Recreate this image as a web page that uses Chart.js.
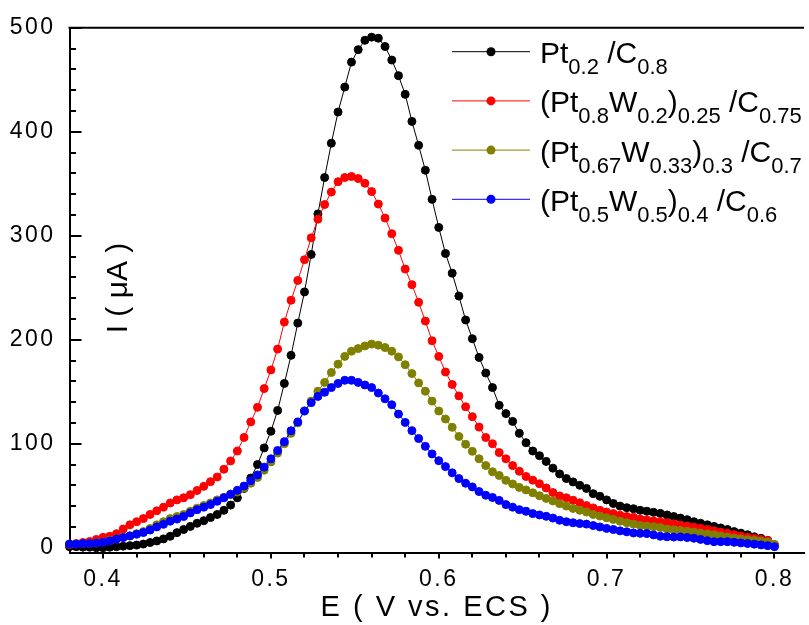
<!DOCTYPE html>
<html>
<head>
<meta charset="utf-8">
<script src="https://cdn.jsdelivr.net/npm/chart.js@4/dist/chart.umd.min.js"></script>
<style>
  html, body { margin: 0; padding: 0; background: #fff; }
  #wrap { width: 809px; height: 625px; }
</style>
</head>
<body>
<div id="wrap"><canvas id="cv" width="809" height="625"></canvas></div>
<script>
// potential E (V vs. ECS)
const potential = [
  0.380,0.384,0.388,0.392,0.396,0.400,0.404,0.408,0.412,0.416,
  0.420,0.424,0.428,0.432,0.436,0.440,0.444,0.448,0.452,0.456,
  0.460,0.464,0.468,0.472,0.476,0.480,0.484,0.488,0.492,0.496,
  0.500,0.504,0.508,0.512,0.516,0.520,0.524,0.528,0.532,0.536,
  0.540,0.544,0.548,0.552,0.556,0.560,0.564,0.568,0.572,0.576,
  0.580,0.584,0.588,0.592,0.596,0.600,0.604,0.608,0.612,0.616,
  0.620,0.624,0.628,0.632,0.636,0.640,0.644,0.648,0.652,0.656,
  0.660,0.664,0.668,0.672,0.676,0.680,0.684,0.688,0.692,0.696,
  0.700,0.704,0.708,0.712,0.716,0.720,0.724,0.728,0.732,0.736,
  0.740,0.744,0.748,0.752,0.756,0.760,0.764,0.768,0.772,0.776,
  0.780,0.784,0.788,0.792,0.796,0.800
];

// current I (uA)
const ptC = [
  1,1,0.5,0.5,0,0,0.5,1,1.5,2,
  2.5,3.5,5,6.5,8.5,11,14.5,17.5,20.5,23.5,
  26,29,32,36,41,48,57,67,80,96,
  112,132,158,185,216,246,282,321,356,389,
  419,443,467,479,488,491,490,482,469,454,
  436,410,387,363,335,308,283,264,242,219,
  201,183,168,154,137,129,121.5,110,101,93,
  88.5,83,76.5,71,66.5,63.3,60,57,52,49.5,
  46,42.5,40,38.5,37.5,36,35,34,33,31.5,
  30,28.5,27,25,23.5,22,20.5,19,17.5,15.5,
  14,12.5,10.5,9,7,2
];
const ptW02 = [
  3,4,5,6,8,10,11,13.5,18,22,
  25,28,32,35.5,39,43,46,48,51,55,
  59,63.5,68,75.5,83.5,93,106,121,135,153,
  171,191,217,238,257,277,298,316,330,342,
  352,356,357,355,350.5,342.5,330.5,317,302,286,
  268,253,236,218,199,184,169,157,146,135.5,
  126,116,106,100,91.5,85.5,79,73.5,68.5,65,
  61.5,57.5,53,49.8,48,45.7,43.2,40.5,38.3,36,
  34.3,32.8,31.3,30,29.2,27.6,26.6,25.8,25,24,
  23,21.8,20.8,19.8,18.8,17.6,16.3,15,13.8,12.5,
  11.3,10,9,8,7,3
];
const ptW033 = [
  3.5,3.5,4,4,4.5,5.5,7,8.5,10,11.5,
  13.5,15.5,18.5,22,25,28,30,32,35,38,
  40.5,43,46,48.5,51,53.5,57.5,62,67.5,74.5,
  82.5,91,100,110,120,131.5,141,150.5,159,168.5,
  176.5,184,189,191.5,194,195.8,194.8,192.5,189,183.5,
  176,167.5,158.5,150.5,141,131.5,123.8,115.8,107,99.5,
  92.7,85.5,79,73,69.5,64.8,61.3,58,55.6,52.8,
  50,47.4,45,42.4,40,37.8,36,34.3,32,30.4,
  28.8,27.2,25.5,24,22.7,21.4,20.8,20.2,19.4,17.9,
  17.3,16.6,15.8,15,14,13.3,12.4,11.3,10.2,9.2,
  8.4,7.7,7,6.3,5.5,3
];
const ptW05 = [
  3.5,3.5,4,4,4.5,5.2,6.5,8.3,9.8,11.3,
  13,14.6,17,20,22.5,25.5,27.5,30,33.5,36.5,
  39,41.5,44.7,48,51.5,55.2,59.3,64.5,70,77.5,
  85.5,93.5,102,112.5,121,131.5,139.5,145.5,149.5,154,
  158,161,161,159,156.5,154,148.8,143.2,137.5,128.5,
  120.5,112.6,105,97.5,90.2,83.7,78,72,66.5,62,
  58.5,54,50.5,48.3,45.5,41.5,39,36.6,35,32.8,
  31.5,30.2,28.5,26.4,25,24,23.2,22.7,21.3,20,
  18.6,17.5,16.2,15.3,14.2,13.8,13.6,12.3,11,10.5,
  10.3,10.4,9.8,9.1,8,6.8,5.8,5.8,5.8,5.2,
  4.6,4,3.4,2.7,2,1
];

const seriesData = [ptC, ptW02, ptW033, ptW05];
const seriesColors = ['#000000', '#ff0000', '#808000', '#0000ff'];
// legend text pieces: [text, subscript?]
const legendParts = [
  [['Pt',0],['0.2',1],[' /C',0],['0.8',1]],
  [['(Pt',0],['0.8',1],['W',0],['0.2',1],[')',0],['0.25',1],[' /C',0],['0.75',1]],
  [['(Pt',0],['0.67',1],['W',0],['0.33',1],[')',0],['0.3',1],[' /C',0],['0.7',1]],
  [['(Pt',0],['0.5',1],['W',0],['0.5',1],[')',0],['0.4',1],[' /C',0],['0.6',1]]
];

const xTicks = [0.4, 0.5, 0.6, 0.7, 0.8];
const xMinor = [0.42,0.44,0.46,0.48,0.52,0.54,0.56,0.58,0.62,0.64,0.66,0.68,0.72,0.74,0.76,0.78];
const yTicks = [0, 100, 200, 300, 400, 500];
const yMinor = [20,40,60,80,120,140,160,180,220,240,260,280,320,340,360,380,420,440,460,480];

const FONT = "'Liberation Sans', Arial, sans-serif";

const framePlugin = {
  id: 'frame',
  beforeLayout(chart) { chart.ctx.letterSpacing = '2.5px'; },
  beforeDraw(chart) { chart.ctx.letterSpacing = '2.5px'; },
  beforeDatasetsDraw(chart) {
    const { ctx, chartArea: a, scales: { x, y } } = chart;
    ctx.save();
    ctx.strokeStyle = '#000';
    ctx.lineWidth = 2;
    ctx.beginPath();
    ctx.moveTo(a.left - 1, a.top);
    ctx.lineTo(a.right, a.top);
    ctx.stroke();
    ctx.beginPath();
    yTicks.concat(yMinor).forEach(v => {
      const py = Math.round(y.getPixelForValue(v));
      const len = yTicks.includes(v) ? 12 : 6.5;
      ctx.moveTo(a.left, py);
      ctx.lineTo(a.left + len, py);
    });
    xTicks.concat(xMinor).forEach(v => {
      const px = Math.round(x.getPixelForValue(v));
      const len = xTicks.includes(v) ? 6 : 5;
      ctx.moveTo(px, a.bottom);
      ctx.lineTo(px, a.bottom + len);
    });
    ctx.stroke();
    ctx.restore();
  },
  afterDraw(chart) {
    const ctx = chart.ctx;
    ctx.save();
    ctx.letterSpacing = '0px';
    // y title sits inside the plot
    ctx.fillStyle = '#000';
    ctx.font = '30px ' + FONT;
    ctx.textAlign = 'center';
    ctx.textBaseline = 'alphabetic';
    ctx.translate(127, 288);
    ctx.rotate(-Math.PI / 2);
    ctx.fillText('I ( \u03bcA )', 0, 0);
    ctx.restore();

    ctx.save();
    ctx.letterSpacing = '0px';
    ctx.textAlign = 'left';
    ctx.textBaseline = 'alphabetic';
    legendParts.forEach((parts, i) => {
      const cy = 51.7 + i * 49.2;
      ctx.strokeStyle = seriesColors[i];
      ctx.lineWidth = 1;
      ctx.beginPath();
      ctx.moveTo(452, cy);
      ctx.lineTo(530, cy);
      ctx.stroke();
      ctx.fillStyle = seriesColors[i];
      ctx.beginPath();
      ctx.arc(491, cy, 4.5, 0, Math.PI * 2);
      ctx.fill();
      ctx.fillStyle = '#000';
      let tx = 540;
      parts.forEach(([t, sub]) => {
        ctx.font = (sub ? '22px ' : '30px ') + FONT;
        ctx.fillText(t, tx, cy + (sub ? 22.5 : 11.5));
        tx += ctx.measureText(t).width;
      });
    });
    ctx.restore();
  }
};

const datasets = seriesData.map((vals, i) => ({
  data: potential.map((e, j) => ({ x: e, y: vals[j] })),
  borderColor: seriesColors[i],
  backgroundColor: seriesColors[i],
  borderWidth: 1,
  pointRadius: 4,
  pointBorderWidth: 1,
  pointBorderColor: seriesColors[i],
  pointBackgroundColor: seriesColors[i],
  tension: 0,
  clip: false,
  order: 3 - i
}));

new Chart(document.getElementById('cv').getContext('2d'), {
  type: 'line',
  data: { datasets },
  options: {
    responsive: false,
    animation: false,
    layout: { padding: { top: 27, right: 0, left: 0, bottom: 0 } },
    plugins: { legend: { display: false }, tooltip: { enabled: false } },
    scales: {
      x: {
        type: 'linear',
        min: 0.38,
        max: 0.8176,
        grid: { display: false, drawTicks: false },
        border: { display: true, color: '#000', width: 2 },
        afterBuildTicks: s => { s.ticks = xTicks.map(v => ({ value: v })); },
        afterFit: s => { s.height = 72.5; },
        ticks: {
          padding: 13, color: '#000', maxRotation: 0, autoSkip: false,
          font: { family: FONT, size: 23 },
          callback: v => v.toFixed(1)
        },
        title: {
          display: true, text: 'E ( V vs. ECS )', color: '#000',
          font: { family: FONT, size: 29 }, padding: { top: 0, bottom: 0 }
        }
      },
      y: {
        min: -4.6,
        max: 500,
        grid: { display: false, drawTicks: false },
        border: { display: true, color: '#000', width: 2 },
        afterBuildTicks: s => { s.ticks = yTicks.map(v => ({ value: v })); },
        afterFit: s => { s.width = 69.5; },
        ticks: {
          padding: 14, color: '#000', autoSkip: false,
          font: { family: FONT, size: 23 },
          callback: v => String(v)
        }
      }
    }
  },
  plugins: [framePlugin]
});
</script>
</body>
</html>
